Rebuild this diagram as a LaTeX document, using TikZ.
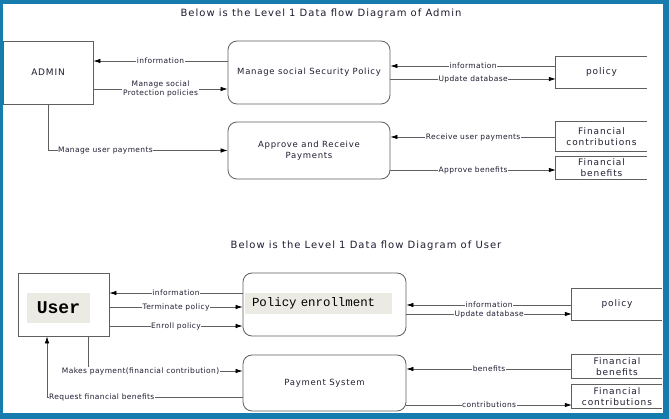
\documentclass[tikz,border=0pt]{standalone}
\usepackage{fontspec}
\setmainfont{DejaVu Sans}
\setmonofont{Liberation Mono}
\usetikzlibrary{arrows.meta}
\definecolor{frameblue}{RGB}{21,124,173}
\definecolor{linegray}{RGB}{95,95,95}
\definecolor{txtdark}{RGB}{30,30,50}
\definecolor{hlbeige}{RGB}{236,235,227}
\begin{document}
\begin{tikzpicture}[x=1pt, y=-1pt,
  ent/.style={draw=linegray, line width=0.8pt, text=txtdark, font=\fontsize{9}{10}\selectfont\addfontfeatures{LetterSpace=9}},
  proc/.style={draw=linegray, line width=0.8pt, rounded corners=9pt, text=txtdark, align=center, font=\fontsize{8.5}{11}\selectfont\addfontfeatures{LetterSpace=8.5}},
  store/.style={text=txtdark, align=center, inner sep=0pt, font=\fontsize{9}{11}\selectfont\addfontfeatures{LetterSpace=10}},
  storeline/.style={linegray, line width=0.8pt},
  flow/.style={linegray, line width=0.7pt, -{Latex[length=7pt,width=4.5pt,color=black]}},
  lbl/.style={fill=white, inner sep=0.6pt, text=txtdark, font=\fontsize{7.5}{8.5}\selectfont\addfontfeatures{LetterSpace=5}, align=center},
  ttl/.style={text=txtdark, font=\fontsize{10}{12}\selectfont\addfontfeatures{LetterSpace=10}},
  hlbox/.style={fill=hlbeige, inner sep=0pt, text=black}
]
    \fill[frameblue] (0,0) rectangle (669,419);
    \fill[white] (3,4) rectangle (663,413);

    % admin level 1
    \node[ttl] (ttlA) at (321,14) {Below is the Level 1 Data flow Diagram of Admin};
    \node[ent, minimum width=90pt, minimum height=63pt] (admin) at (48,72.5) {ADMIN};
    \node[proc, minimum width=162pt, minimum height=63pt] (msp) at (309,72.5) {Manage social Security Policy};
    \node[proc, minimum width=162pt, minimum height=57pt] (arp) at (309,150.5) {Approve and Receive\\Payments};
    \node[store, minimum width=91pt, minimum height=31pt] (polA) at (601.5,72.5) {policy};
    \node[store, minimum width=91pt, minimum height=29pt] (fcA) at (601.5,136.5) {Financial\\contributions};
    \node[store, minimum width=91pt, minimum height=22pt] (fbA) at (601.5,168) {Financial\\benefits};

    \draw[flow] (msp.west |- 0,61) -- node[lbl] {information} (admin.east |- 0,61);
    \draw[flow] (admin.east |- 0,89) -- node[lbl] {Manage social\\Protection policies} (msp.west |- 0,89);
    \draw[flow] (admin.south) |- node[lbl, pos=0.66] {Manage user payments} (arp.west);
    \draw[flow] (polA.west |- 0,66) -- node[lbl] {information} (msp.east |- 0,66);
    \draw[flow] (msp.east |- 0,79) -- node[lbl] {Update database} (polA.west |- 0,79);
    \draw[flow] (fcA.west |- 0,137) -- node[lbl] {Receive user payments} (arp.east |- 0,137);
    \draw[flow] (arp.east |- 0,170) -- node[lbl] {Approve benefits} (fbA.west |- 0,170);

    % user level 1
    \node[ttl] (ttlB) at (366,246) {Below is the Level 1 Data flow Diagram of User};
    \node[ent, minimum width=91pt, minimum height=63pt] (user) at (63.5,304.5) {};
    \node[hlbox, minimum width=63pt, minimum height=30pt, font=\ttfamily\bfseries\fontsize{18}{18}\selectfont] (usertxt) at (58.5,308) {User};
    \node[proc, minimum width=163pt, minimum height=63pt] (pe) at (324.5,304.5) {};
    \node[hlbox, minimum height=21pt, text width=133pt, inner xsep=7pt, align=left, font=\ttfamily\fontsize{12.4}{12.4}\selectfont] (petxt) at (318.5,303.5) {Policy enrollment};
    \node[proc, minimum width=163pt, minimum height=56pt] (ps) at (324.5,383) {Payment System};
    \node[store, minimum width=90pt, minimum height=31pt] (polB) at (617,304.5) {policy};
    \node[store, minimum width=90pt, minimum height=23pt] (fbB) at (617,366.5) {Financial\\benefits};
    \node[store, minimum width=90pt, minimum height=23pt] (fcB) at (617,396.5) {Financial\\contributions};

    \draw[flow] (pe.west |- 0,293) -- node[lbl] {information} (user.east |- 0,293);
    \draw[flow] (user.east |- 0,307) -- node[lbl] {Terminate policy} (pe.west |- 0,307);
    \draw[flow] (user.east |- 0,326) -- node[lbl] {Enroll policy} (pe.west |- 0,326);
    \draw[flow] (user.south -| 88,0) |- node[lbl, pos=0.67] {Makes payment(financial contribution)} (ps.west |- 0,371);
    \draw[flow] (ps.west |- 0,397) -| node[lbl, pos=0.36] {Request financial benefits} (user.south -| 47,0);
    \draw[flow] (polB.west |- 0,305) -- node[lbl] {information} (pe.east |- 0,305);
    \draw[flow] (pe.east |- 0,314) -- node[lbl] {Update database} (polB.west |- 0,314);
    \draw[flow] (fbB.west |- 0,369) -- node[lbl] {benefits} (ps.east |- 0,369);
    \draw[flow] (ps.east |- 0,405) -- node[lbl] {contributions} (fcB.west |- 0,405);

    % open data stores
    \foreach \s in {polA,fcA,fbA,polB,fbB,fcB}
      \draw[storeline] (\s.north east) -- (\s.north west) -- (\s.south west) -- (\s.south east);
\end{tikzpicture}
\end{document}
